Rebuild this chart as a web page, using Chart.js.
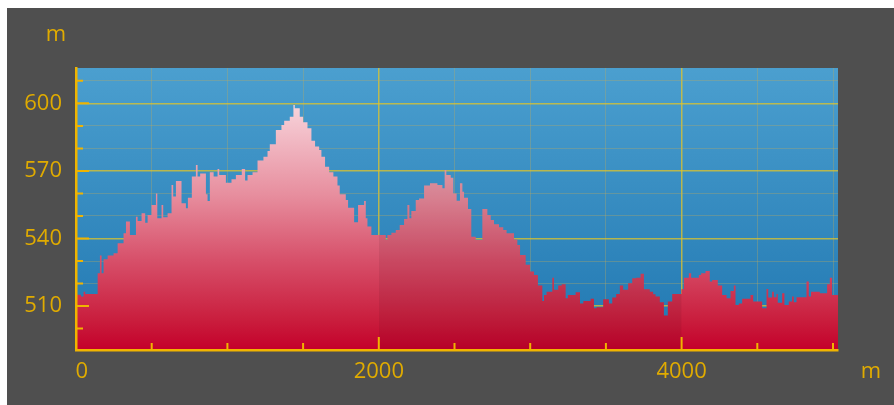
<!DOCTYPE html>
<html lang="en">
<head>
    <meta charset="UTF-8">
    <title>Elevation profile</title>
    <script src="https://cdn.jsdelivr.net/npm/chart.js"></script>
    <style>
        body { margin: 0; background: #ffffff; }
        /* gray frame, offset like the reference */
        #frame {
            position: absolute;
            left: 7px; top: 8px;
            width: 887px; height: 397px;
            background: #4f4f4f;
        }
    </style>
</head>
<body>
    <div id="frame"><canvas id="profile"></canvas></div>

    <script>
        // distance (m) where each step starts, and its elevation (m)
        const distances = [
            0, 33, 50, 61, 143, 158, 169, 182, 209, 248, 275, 314, 330, 356, 396, 407, 433, 457, 473, 499,
            528, 537, 565, 576, 605, 631, 642, 660, 697, 726, 739, 765, 792, 803, 820, 858, 869, 884, 909, 935,
            946, 990, 1027, 1056, 1095, 1117, 1133, 1166, 1199, 1238, 1265, 1280, 1320, 1357, 1375, 1412, 1436, 1445, 1478, 1500,
            1529, 1555, 1579, 1606, 1621, 1645, 1672, 1700, 1727, 1742, 1782, 1797, 1837, 1863, 1903, 1914, 1925, 1951, 2046, 2057,
            2083, 2112, 2138, 2167, 2189, 2202, 2215, 2244, 2266, 2299, 2338, 2387, 2420, 2435, 2446, 2475, 2492, 2514, 2536, 2552,
            2563, 2589, 2611, 2640, 2684, 2717, 2739, 2761, 2794, 2822, 2844, 2893, 2915, 2933, 2970, 2999, 3025, 3051, 3080, 3091,
            3108, 3146, 3157, 3185, 3208, 3234, 3249, 3300, 3329, 3351, 3399, 3421, 3438, 3482, 3520, 3542, 3568, 3592, 3614, 3647,
            3674, 3700, 3729, 3751, 3790, 3812, 3828, 3856, 3883, 3909, 3938, 3999, 4015, 4048, 4063, 4114, 4129, 4158, 4186, 4202,
            4239, 4268, 4297, 4323, 4345, 4356, 4378, 4400, 4455, 4473, 4532, 4561, 4572, 4598, 4609, 4627, 4635, 4664, 4679, 4708,
            4730, 4741, 4759, 4825, 4840, 4855, 4913, 4961, 4979, 4994
        ];
        const elevations = [
            515.0, 514.2, 516.4, 515.4, 524.6, 532.4, 524.6, 530.8, 532.4, 533.4, 537.9, 542.3, 547.5, 541.6, 549.7, 547.8, 551.2, 547.0, 550.4, 554.9,
            560.0, 549.0, 554.9, 549.4, 551.2, 563.8, 558.6, 565.5, 555.6, 553.4, 558.1, 567.5, 572.6, 567.5, 568.9, 559.6, 556.7, 569.4, 567.5, 570.9,
            568.2, 564.8, 566.3, 568.2, 570.9, 565.7, 568.2, 569.4, 574.6, 576.3, 578.8, 581.8, 588.2, 590.4, 592.3, 594.1, 599.3, 597.8, 594.1, 591.6,
            588.9, 583.4, 580.8, 579.3, 576.3, 571.9, 569.4, 567.5, 563.5, 559.6, 557.1, 553.7, 547.2, 554.9, 556.7, 549.0, 545.3, 541.6, 539.3, 541.6,
            542.6, 543.8, 546.0, 548.7, 554.9, 549.0, 552.2, 557.1, 557.8, 563.5, 564.5, 563.8, 562.3, 570.4, 568.2, 567.0, 560.0, 556.8, 564.5, 560.8,
            558.1, 553.1, 540.8, 539.3, 553.1, 550.4, 548.2, 546.3, 545.0, 543.8, 542.3, 539.6, 537.1, 532.7, 528.3, 525.3, 523.8, 519.1, 512.3, 514.9,
            516.4, 522.6, 517.2, 519.1, 519.7, 513.5, 514.9, 516.1, 511.2, 512.3, 513.2, 509.0, 509.5, 513.0, 511.2, 513.8, 515.4, 519.1, 517.2, 520.1,
            522.3, 522.6, 524.3, 517.5, 516.4, 515.2, 514.2, 511.7, 505.8, 512.0, 515.4, 517.5, 522.6, 524.6, 522.6, 523.8, 524.6, 525.6, 520.9, 521.6,
            519.1, 514.9, 513.5, 516.7, 519.1, 510.5, 511.2, 513.2, 514.9, 512.0, 509.0, 517.6, 513.8, 516.4, 513.9, 515.4, 511.5, 515.7, 510.5, 512.0,
            514.2, 511.7, 513.9, 520.9, 514.2, 516.4, 515.7, 519.7, 522.6, 514.9
        ];
        const endDistance = 5033;

        const elevationTicks = [510, 540, 570, 600];   // labelled, major
        const distanceTicks = [0, 2000, 4000];          // labelled, major
        const elevationStep = 10;                       // minor tick spacing
        const distanceStep = 500;
        const shadedBand = [2000, 4000];                // darker part of the profile

        const gold = '#f0b400';
        const labelColor = '#e0ab00';
        const font = { family: '"Open Sans", "DejaVu Sans", sans-serif', size: 22 };

        // points for the stepped area
        const points = distances.map((d, i) => ({ x: d, y: elevations[i] }));
        points.push({ x: endDistance, y: elevations[elevations.length - 1] });

        function elevationAt(d) {
            let v = elevations[0];
            for (let i = 0; i < distances.length; i++) {
                if (distances[i] <= d) v = elevations[i];
            }
            return v;
        }

        const bandPoints = [{ x: shadedBand[0], y: elevationAt(shadedBand[0]) }]
            .concat(points.filter(p => p.x > shadedBand[0] && p.x < shadedBand[1]))
            .concat([{ x: shadedBand[1], y: elevationAt(shadedBand[1]) }]);

        // ticks at every step inside the scale range
        function stepTicks(scale, step) {
            const out = [];
            for (let v = Math.ceil(scale.min / step) * step; v <= scale.max; v += step) {
                out.push({ value: v });
            }
            scale.ticks = out;
        }

        function redGradient(context) {
            const chart = context.chart;
            const area = chart.chartArea;
            if (!area) return '#d03050';
            const g = chart.ctx.createLinearGradient(0, area.top, 0, area.bottom);
            g.addColorStop(0, '#fdebf0');
            g.addColorStop(0.12, '#f8d6dd');
            g.addColorStop(0.45, '#e78e9e');
            g.addColorStop(0.68, '#d7506a');
            g.addColorStop(0.9, '#c91c3c');
            g.addColorStop(1, '#c4002a');
            return g;
        }

        // blue plot background
        const plotBackground = {
            id: 'plotBackground',
            beforeDraw(chart) {
                const { ctx, chartArea: a } = chart;
                const g = ctx.createLinearGradient(0, a.top, 0, a.bottom);
                g.addColorStop(0, '#4b9fcf');
                g.addColorStop(1, '#2077b1');
                ctx.save();
                ctx.fillStyle = g;
                ctx.fillRect(a.left, a.top, a.right - a.left, a.bottom - a.top);
                ctx.restore();
            }
        };

        // tick marks pointing into the plot, plus the "m" unit labels
        const tickMarks = {
            id: 'tickMarks',
            afterDatasetsDraw(chart) {
                const { ctx, chartArea: a, scales: { x, y } } = chart;
                ctx.save();
                ctx.strokeStyle = gold;
                ctx.lineWidth = 2;
                ctx.beginPath();
                y.ticks.forEach(t => {
                    const py = y.getPixelForValue(t.value);
                    const len = elevationTicks.includes(t.value) ? 13 : 7;
                    ctx.moveTo(a.left, py);
                    ctx.lineTo(a.left + len, py);
                });
                x.ticks.forEach(t => {
                    const px = x.getPixelForValue(t.value);
                    const len = distanceTicks.includes(t.value) ? 13 : 7;
                    ctx.moveTo(px, a.bottom);
                    ctx.lineTo(px, a.bottom - len);
                });
                ctx.stroke();
                ctx.restore();
            },
            afterDraw(chart) {
                const { ctx, chartArea: a } = chart;
                ctx.save();
                ctx.fillStyle = labelColor;
                ctx.font = font.size + 'px ' + font.family;
                ctx.textAlign = 'center';
                ctx.textBaseline = 'middle';
                ctx.fillText('m', a.left - 20, 27);
                ctx.fillText('m', a.right + 33, a.bottom + 22);
                ctx.restore();
            }
        };

        new Chart(document.getElementById('profile'), {
            type: 'line',
            data: {
                datasets: [
                    {
                        data: bandPoints,
                        stepped: true,
                        fill: 'start',
                        backgroundColor: 'rgba(40, 0, 15, 0.08)',
                        borderWidth: 0,
                        pointRadius: 0,
                        order: 0
                    },
                    {
                        data: points,
                        stepped: true,
                        fill: 'start',
                        backgroundColor: redGradient,
                        borderWidth: 0,
                        pointRadius: 0,
                        order: 1
                    }
                ]
            },
            options: {
                responsive: true,
                maintainAspectRatio: false,
                animation: false,
                layout: { padding: { top: 60, right: 56, left: 0, bottom: 0 } },
                plugins: {
                    legend: { display: false },
                    tooltip: { enabled: false }
                },
                scales: {
                    x: {
                        type: 'linear',
                        min: 0,
                        max: endDistance,
                        afterBuildTicks: s => stepTicks(s, distanceStep),
                        afterFit(scale) { scale.height = 55; },
                        border: { color: gold, width: 2.5, z: 1 },
                        grid: {
                            drawTicks: false,
                            color: c => distanceTicks.includes(c.tick.value) ? 'rgba(226, 196, 40, 0.75)' : 'rgba(190, 170, 90, 0.33)',
                            lineWidth: c => distanceTicks.includes(c.tick.value) ? 1.5 : 1
                        },
                        ticks: {
                            autoSkip: false,
                            maxRotation: 0,
                            padding: 9,
                            color: labelColor,
                            font: font,
                            callback: v => distanceTicks.includes(v) ? (v === 0 ? '  0' : String(v)) : ''
                        }
                    },
                    y: {
                        min: 490.5,
                        max: 615.7,
                        afterBuildTicks: s => stepTicks(s, elevationStep),
                        afterFit(scale) { scale.width = 69; },
                        border: { color: gold, width: 2.5, z: 1 },
                        grid: {
                            drawTicks: false,
                            color: c => elevationTicks.includes(c.tick.value) ? 'rgba(226, 196, 40, 0.75)' : 'rgba(190, 170, 90, 0.33)',
                            lineWidth: c => elevationTicks.includes(c.tick.value) ? 1.5 : 1
                        },
                        ticks: {
                            autoSkip: false,
                            padding: 14,
                            color: labelColor,
                            font: font,
                            callback: v => elevationTicks.includes(v) ? String(v) : ''
                        }
                    }
                }
            },
            plugins: [plotBackground, tickMarks]
        });
    </script>
</body>
</html>
